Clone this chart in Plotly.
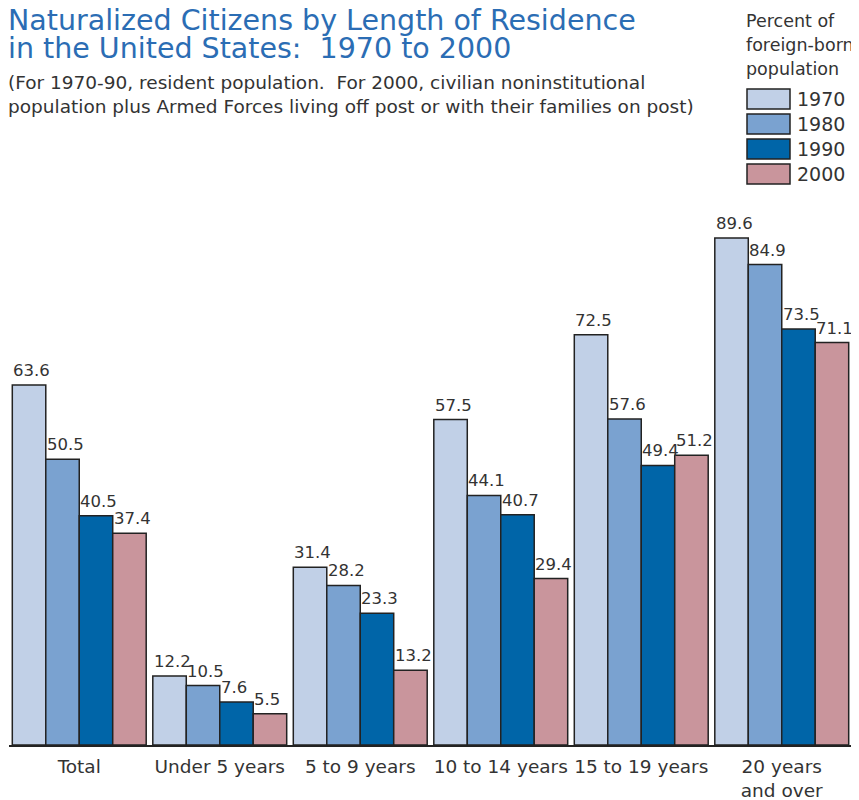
import plotly.graph_objects as go

# categories and values (percent of foreign-born population naturalized)
groups = ["Total", "Under 5 years", "5 to 9 years", "10 to 14 years", "15 to 19 years", "20 years<br>and over"]
years = ["1970", "1980", "1990", "2000"]
pct_1970 = [63.6, 12.2, 31.4, 57.5, 72.5, 89.6]
pct_1980 = [50.5, 10.5, 28.2, 44.1, 57.6, 84.9]
pct_1990 = [40.5, 7.6, 23.3, 40.7, 49.4, 73.5]
pct_2000 = [37.4, 5.5, 13.2, 29.4, 51.2, 71.1]
series = [pct_1970, pct_1980, pct_1990, pct_2000]
colors = ["#c1d0e7", "#7aa2d0", "#0065a8", "#c9959c"]

# page has an 8px body margin, so the figure sits at (8, 8)
OFF = 8
W, H = 851, 792
ml, mr, mt, mb = 1, 7, 192, 55
bargap = 0.047
ymax = 96.3
FONT = "DejaVu Sans"
TXT = "#333333"


def px(x):
    return (x - OFF - ml) / (W - ml - mr)


def py(y):
    return (H - mb - (y - OFF)) / (H - mt - mb)


def note(x, y, text, size, color=TXT, family=FONT, xanchor="left", yanchor="middle"):
    fig.add_annotation(
        xref="paper", yref="paper", x=px(x), y=py(y), xanchor=xanchor, yanchor=yanchor,
        align="left", showarrow=False, text=text,
        font=dict(family=family, size=size, color=color),
    )


fig = go.Figure()
bw = (1 - bargap) / len(series)
x_idx = list(range(len(groups)))
for k, (yr, vals) in enumerate(zip(years, series)):
    fig.add_trace(go.Bar(
        x=x_idx, y=vals, name=yr,
        marker=dict(color=colors[k], line=dict(color="#222222", width=1.5)),
        showlegend=False,
    ))
    off = -(1 - bargap) / 2 + k * bw
    for i, v in enumerate(vals):
        fig.add_annotation(
            x=i + off, y=v, text=f"{v}", showarrow=False,
            xanchor="left", yanchor="bottom", xshift=-1, yshift=3,
            font=dict(family=FONT, size=16.5, color=TXT),
        )

# title / subtitle
note(6, 21, "Naturalized Citizens by Length of Residence", 28.5, "#2b6db4")
note(6, 49, "in the United States:  1970 to 2000", 28.5, "#2b6db4")
note(6, 82, "(For 1970-90, resident population.  For 2000, civilian noninstitutional", 18.5)
note(6, 106, "population plus Armed Forces living off post or with their families on post)", 18.5)

# legend drawn by hand
for j, line in enumerate(["Percent of", "foreign-born", "population"]):
    note(744, 21 + 24 * j, line, 17.5)
for k, yr in enumerate(years):
    y0 = 89 + k * 25
    fig.add_shape(
        type="rect", xref="paper", yref="paper",
        x0=px(747), x1=px(790), y0=py(y0), y1=py(y0 + 20),
        fillcolor=colors[k], line=dict(color="#222222", width=1.5),
    )
    note(795, y0 + 10, yr, 19)

fig.update_layout(
    width=W, height=H,
    margin=dict(l=ml, r=mr, t=mt, b=mb),
    barmode="group", bargap=bargap, bargroupgap=0,
    plot_bgcolor="white", paper_bgcolor="white",
    xaxis=dict(
        tickmode="array", tickvals=x_idx, ticktext=groups,
        range=[-0.5, len(groups) - 0.5], automargin=False,
        showline=True, linecolor="#222222", linewidth=1.5,
        showgrid=False, zeroline=False, ticks="", ticklabelstandoff=4,
        tickfont=dict(family=FONT, size=18.5, color=TXT),
    ),
    yaxis=dict(range=[0, ymax], visible=False, showgrid=False, zeroline=False),
)

fig.write_html("out.html")
